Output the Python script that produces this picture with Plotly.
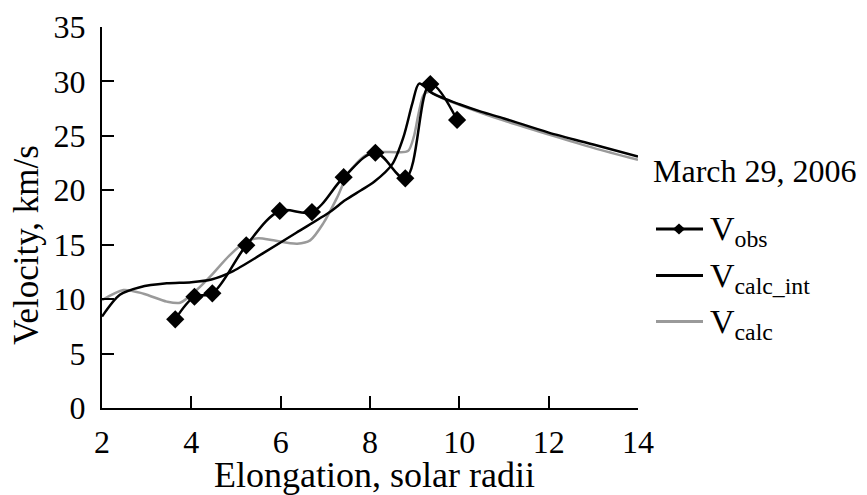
import plotly.graph_objects as go

# Observed velocities
obs_x = [3.64, 4.07, 4.47, 5.23, 5.98, 6.70, 7.41, 8.12, 8.79, 9.35, 9.95]
obs_y = [8.15, 10.22, 10.53, 14.94, 18.1, 18.0, 21.2, 23.45, 21.1, 29.76, 26.46]

# Calculated (interpolated) velocities
calc_int_x = [2.0, 2.4, 2.85, 3.45, 4.0, 4.45, 4.9, 5.6, 6.35, 7.1, 7.45, 7.8, 8.1,
              8.5, 8.75, 8.95, 9.1, 9.4, 10.0, 10.5, 11.0, 12.0, 13.0, 14.0]
calc_int_y = [8.4, 10.4, 11.1, 11.45, 11.55, 11.8, 12.5, 14.2, 16.1, 18.0, 19.1, 20.0, 20.8,
              22.4, 24.9, 28.0, 29.8, 28.9, 27.9, 27.2, 26.6, 25.3, 24.2, 23.1]

# Calculated velocities
calc_x = [2.0, 2.48, 2.93, 3.45, 3.75, 4.12, 4.42, 4.85, 5.23, 5.5, 5.84, 6.37, 6.66,
          6.96, 7.26, 7.52, 7.9, 8.2, 8.6, 8.85, 8.98, 9.09, 9.2, 9.32, 9.6, 10.5,
          11.0, 12.1, 13.0, 14.0]
calc_y = [9.9, 10.84, 10.5, 9.77, 9.67, 10.84, 12.06, 14.0, 15.3, 15.6, 15.4, 15.1, 15.4,
          17.0, 19.3, 21.6, 23.2, 23.5, 23.5, 23.6, 24.9, 27.1, 28.75, 29.06, 28.5, 27.1,
          26.4, 25.0, 23.9, 22.8]

x_ticks = [2, 4, 6, 8, 10, 12, 14]
y_ticks = [0, 5, 10, 15, 20, 25, 30, 35]

legend_title = "March 29, 2006"
legend_names = ["V<sub>obs</sub>", "V<sub>calc_int</sub>", "V<sub>calc</sub>"]
legend_colors = ["black", "black", "#9a9a9a"]

FONT = "Liberation Serif"
OFF = 8  # page body margin offset in the browser
W, H = 867 - OFF, 495 - OFF
ML, MR, MT, MB = 102 - OFF, 229, 27 - OFF, 87
PW, PH = W - ML - MR, H - MT - MB


def px(x):
    # x given in screen pixels
    return (x - OFF - ML) / PW


def py(y):
    # y given in screen pixels
    return (H - MB - (y - OFF)) / PH


fig = go.Figure()
fig.add_trace(go.Scatter(
    x=calc_x, y=calc_y, mode="lines", name="V<sub>calc</sub>",
    line=dict(color="#9a9a9a", width=2.5, shape="spline", smoothing=0.8),
))
fig.add_trace(go.Scatter(
    x=calc_int_x, y=calc_int_y, mode="lines", name="V<sub>calc_int</sub>",
    line=dict(color="black", width=2.5, shape="spline", smoothing=0.8),
))
fig.add_trace(go.Scatter(
    x=obs_x, y=obs_y, mode="lines+markers", name="V<sub>obs</sub>",
    line=dict(color="black", width=2.5, shape="spline", smoothing=1.0),
    marker=dict(symbol="diamond", size=14, color="black"),
))

shapes = []
annotations = []

# manual legend
annotations.append(dict(
    text=legend_title, xref="paper", yref="paper", x=px(651), y=py(171),
    xanchor="left", yanchor="middle", showarrow=False,
    font=dict(family=FONT, size=32, color="black"),
))
row_y = [229, 275.5, 321.5]
for i, (name, col) in enumerate(zip(legend_names, legend_colors)):
    yy = row_y[i]
    shapes.append(dict(type="line", xref="paper", yref="paper",
                       x0=px(656), x1=px(703), y0=py(yy), y1=py(yy),
                       line=dict(color=col, width=3)))
    if i == 0:
        cx, cy, rx, ry = 679, yy, 6, 5.5
        path = (f"M {px(cx - rx)},{py(cy)} L {px(cx)},{py(cy - ry)} "
                f"L {px(cx + rx)},{py(cy)} L {px(cx)},{py(cy + ry)} Z")
        shapes.append(dict(type="path", xref="paper", yref="paper", path=path,
                           fillcolor="black", line=dict(color="black", width=0)))
    annotations.append(dict(
        text=name, xref="paper", yref="paper", x=px(708), y=py(yy + 2),
        xanchor="left", yanchor="middle", showarrow=False,
        font=dict(family=FONT, size=34, color="black"),
    ))

# axis titles
annotations.append(dict(
    text="Elongation, solar radii", xref="paper", yref="paper",
    x=px(374), y=py(475), xanchor="center", yanchor="middle", showarrow=False,
    font=dict(family=FONT, size=36, color="black"),
))
annotations.append(dict(
    text="Velocity, km/s", xref="paper", yref="paper", textangle=-90,
    x=px(26), y=py(245), xanchor="center", yanchor="middle", showarrow=False,
    font=dict(family=FONT, size=35, color="black"),
))

fig.update_layout(
    width=W, height=H,
    margin=dict(l=ML, r=MR, t=MT, b=MB, autoexpand=False),
    paper_bgcolor="white", plot_bgcolor="white",
    font=dict(family=FONT, size=32, color="black"),
    showlegend=False,
    shapes=shapes, annotations=annotations,
    xaxis=dict(
        range=[2, 14], tickvals=x_ticks, ticks="inside", ticklen=12, tickwidth=2,
        tickcolor="black", showline=True, linecolor="black", linewidth=2,
        showgrid=False, zeroline=False, automargin=False,
        tickfont=dict(size=32), ticklabelstandoff=5,
    ),
    yaxis=dict(
        range=[0, 35], tickvals=y_ticks, ticks="inside", ticklen=12, tickwidth=2,
        tickcolor="black", showline=True, linecolor="black", linewidth=2,
        showgrid=False, zeroline=False, automargin=False,
        tickfont=dict(size=32), ticklabelstandoff=8,
    ),
)

fig.write_html("out.html")
